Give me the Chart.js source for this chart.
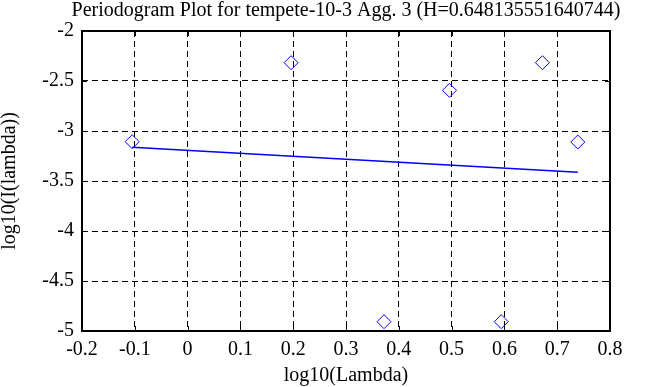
<!DOCTYPE html>
<html>
<head>
<meta charset="utf-8">
<script src="https://cdn.jsdelivr.net/npm/chart.js@4/dist/chart.umd.min.js"></script>
<style>
    html, body { margin: 0; padding: 0; background: #fff; }
    #wrap { width: 663px; height: 387px; }
</style>
</head>
<body>
<div id="wrap"><canvas id="myChart" width="663" height="387"></canvas></div>
<script>
// periodogram points
const logLambda = [-0.105, 0.196, 0.372, 0.496, 0.594, 0.672, 0.739];
const logI = [-3.107, -2.317, -4.907, -2.593, -4.907, -2.317, -3.110];

// fitted line end points
const fitX = [-0.105, 0.739];
const fitY = [-3.163, -3.413];

const xTicks = [-0.2, -0.1, 0, 0.1, 0.2, 0.3, 0.4, 0.5, 0.6, 0.7, 0.8];
const yTicks = [-2, -2.5, -3, -3.5, -4, -4.5, -5];

const titleText = 'Periodogram Plot for tempete-10-3 Agg. 3 (H=0.648135551640744)';
const serif = 'Liberation Serif, DejaVu Serif, serif';

// frame + small inward ticks on every side, title centred over the plot
const framePlugin = {
    id: 'frame',
    afterDatasetsDraw(chart) {
        const ctx = chart.ctx;
        const a = chart.chartArea;
        const xs = chart.scales.x, ys = chart.scales.y;
        ctx.save();
        ctx.strokeStyle = '#000';
        ctx.lineWidth = 1;
        ctx.beginPath();
        for (let v of xTicks) {
            const px = Math.round(xs.getPixelForValue(v)) + 0.5;
            ctx.moveTo(px, a.top); ctx.lineTo(px, a.top + 5);
            ctx.moveTo(px, a.bottom); ctx.lineTo(px, a.bottom - 5);
        }
        for (let v of yTicks) {
            const py = Math.round(ys.getPixelForValue(v)) + 0.5;
            ctx.moveTo(a.left, py); ctx.lineTo(a.left + 5, py);
            ctx.moveTo(a.right, py); ctx.lineTo(a.right - 5, py);
        }
        ctx.stroke();
        ctx.lineWidth = 2;
        ctx.strokeRect(a.left, a.top, a.right - a.left, a.bottom - a.top);

        ctx.fillStyle = '#000';
        ctx.font = '20px ' + serif;
        ctx.textAlign = 'center';
        ctx.textBaseline = 'middle';
        ctx.fillText(titleText, (a.left + a.right) / 2, 11);
        ctx.restore();
    }
};

const ctx = document.getElementById('myChart');
const myChart = new Chart(ctx, {
    type: 'scatter',
    data: {
        datasets: [{
            data: logLambda.map((x, i) => ({ x: x, y: logI[i] })),
            pointStyle: 'rectRot',
            pointRadius: 7,
            pointBorderColor: '#0000ff',
            pointBackgroundColor: 'rgba(0,0,0,0)',
            pointBorderWidth: 1,
            showLine: false
        }, {
            data: fitX.map((x, i) => ({ x: x, y: fitY[i] })),
            showLine: true,
            borderColor: '#0000ff',
            borderWidth: 1.5,
            pointRadius: 0
        }]
    },
    options: {
        responsive: false,
        animation: false,
        layout: { padding: { left: 0, right: 53, top: 31, bottom: 0 } },
        plugins: {
            legend: { display: false },
            tooltip: { enabled: false },
            title: { display: false }
        },
        scales: {
            x: {
                type: 'linear',
                min: -0.2,
                max: 0.8,
                afterBuildTicks(scale) { scale.ticks = xTicks.map(v => ({ value: v })); },
                afterFit(scale) { scale.height = 56; },
                ticks: {
                    color: '#000',
                    padding: 7,
                    font: { family: serif, size: 20 },
                    callback: v => String(Math.round(v * 10) / 10)
                },
                grid: { color: '#000', lineWidth: 1, drawTicks: false },
                border: { display: false, dash: [6, 4] },
                title: {
                    display: true,
                    text: 'log10(Lambda)',
                    color: '#000',
                    font: { family: serif, size: 20, lineHeight: 1 },
                    padding: { top: 1, bottom: 1 }
                }
            },
            y: {
                type: 'linear',
                min: -5,
                max: -2,
                afterBuildTicks(scale) { scale.ticks = yTicks.map(v => ({ value: v })); },
                afterFit(scale) { scale.width = 82; },
                ticks: {
                    color: '#000',
                    padding: 8,
                    font: { family: serif, size: 20 },
                    callback: v => String(Math.round(v * 10) / 10)
                },
                grid: { color: '#000', lineWidth: 1, drawTicks: false },
                border: { display: false, dash: [6, 4] },
                title: {
                    display: true,
                    text: 'log10(I(lambda))',
                    color: '#000',
                    font: { family: serif, size: 20, lineHeight: 1 },
                    padding: { top: 0, bottom: 0 }
                }
            }
        }
    },
    plugins: [framePlugin]
});
</script>
</body>
</html>
